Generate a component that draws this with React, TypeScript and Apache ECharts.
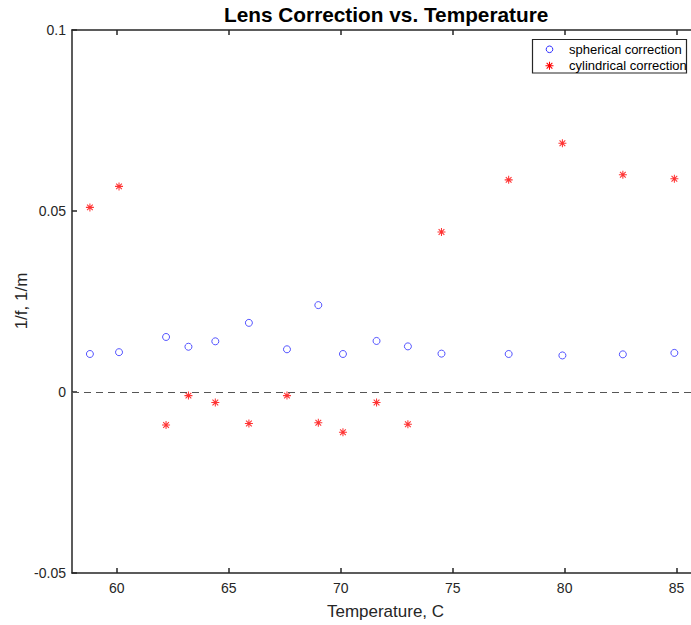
import React, { useEffect, useRef } from "react";
import * as echarts from "echarts";

const temperatures = [58.8, 60.1, 62.2, 63.2, 64.4, 65.9, 67.6, 69.0, 70.1, 71.6, 73.0, 74.5, 77.5, 79.9, 82.6, 84.9];
const spherical = [0.0105, 0.011, 0.0152, 0.0125, 0.014, 0.0191, 0.0118, 0.024, 0.0105, 0.0141, 0.0126, 0.0106, 0.0105, 0.0101, 0.0104, 0.0108];
const cylindrical = [0.051, 0.0568, -0.0091, -0.001, -0.0029, -0.0087, -0.001, -0.0085, -0.0111, -0.0029, -0.0089, 0.0442, 0.0586, 0.0687, 0.06, 0.0589];
const xTicks = [60, 65, 70, 75, 80, 85];
const seriesNames = ["spherical correction", "cylindrical correction"];
const yLabel = "1/f, 1/m";

const FONT = "'Liberation Sans', Arial, Helvetica, sans-serif";
const AXIS = "#262626";
const BLUE = "#2a2aff";
const RED = "#ff0000";
const STAR_D =
  "M4.35 0 H5.65 V10 H4.35 Z M0 4.35 H10 V5.65 H0 Z M0.95 1.9 L1.9 0.95 L9.05 8.1 L8.1 9.05 Z M8.1 0.95 L9.05 1.9 L1.9 9.05 L0.95 8.1 Z";
const STAR = "path://" + STAR_D;

let registered = false;
function ensureShape() {
  if (registered) return;
  echarts.graphic.registerShape("asterisk", echarts.graphic.extendPath(STAR_D, {}) as any);
  registered = true;
}

export default function App() {
  const ref = useRef<HTMLDivElement>(null);
  useEffect(() => {
    if (!ref.current) return;
    ensureShape();
    const chart = echarts.init(ref.current, null, { renderer: "svg" });
    const axisCommon = {
      type: "value" as const,
      min: 58,
      max: 86,
      axisLine: { show: true, onZero: false, lineStyle: { color: AXIS, width: 1.5 } },
      axisTick: { show: true, inside: true, length: 5, customValues: xTicks, lineStyle: { color: AXIS, width: 1.5 } },
      splitLine: { show: false },
    };
    const legX = 532.5;
    const legY = 39.5;
    const row1 = 49.3;
    const row2 = 65.7;
    const markX = 549.5;
    const textX = 569;
    chart.setOption({
      animation: false,
      backgroundColor: "#ffffff",
      title: {
        text: "Lens Correction vs. Temperature",
        left: 224,
        top: 4,
        padding: 0,
        textStyle: { fontFamily: FONT, fontSize: 20.8, fontWeight: "bold", color: "#000" },
      },
      grid: { left: 72, top: 30, width: 627, height: 543, containLabel: false },
      xAxis: [
        {
          ...axisCommon,
          position: "bottom",
          name: "Temperature, C",
          nameLocation: "middle",
          nameGap: 30,
          nameTextStyle: { fontFamily: FONT, fontSize: 17, color: AXIS },
          axisLabel: { customValues: xTicks, fontFamily: FONT, fontSize: 14, color: AXIS, margin: 8 },
        },
        {
          ...axisCommon,
          position: "top",
          axisLabel: { show: false },
        },
      ],
      yAxis: [
        {
          type: "value",
          min: -0.05,
          max: 0.1,
          interval: 0.05,
          position: "left",
          axisLine: { show: true, onZero: false, lineStyle: { color: AXIS, width: 1.5 } },
          axisTick: { show: true, inside: true, length: 5, lineStyle: { color: AXIS, width: 1.5 } },
          axisLabel: { fontFamily: FONT, fontSize: 14, color: AXIS, margin: 6 },
          splitLine: { show: false },
        },
        {
          type: "value",
          min: -0.05,
          max: 0.1,
          interval: 0.05,
          position: "right",
          axisLine: { show: true, onZero: false, lineStyle: { color: AXIS, width: 1.5 } },
          axisTick: { show: true, inside: true, length: 5, lineStyle: { color: AXIS, width: 1.5 } },
          axisLabel: { show: false },
          splitLine: { show: false },
        },
      ],
      graphic: [
        {
          type: "text",
          x: 21,
          y: 301,
          rotation: Math.PI / 2,
          style: { text: yLabel, fontFamily: FONT, fontSize: 17, fill: AXIS, align: "center", verticalAlign: "middle" },
        },
        {
          type: "group",
          z: 100,
          children: [
            {
              type: "rect",
              shape: { x: legX, y: legY, width: 154, height: 33.5 },
              style: { fill: "#fff", stroke: AXIS, lineWidth: 1.2 },
            },
            {
              type: "circle",
              shape: { cx: markX, cy: row1, r: 3.3 },
              style: { fill: "none", stroke: BLUE, lineWidth: 1 },
            },
            {
              type: "asterisk",
              x: markX - 4,
              y: row2 - 4,
              scaleX: 0.8,
              scaleY: 0.8,
              style: { fill: RED },
            },
            {
              type: "text",
              x: textX,
              y: row1,
              style: { text: seriesNames[0], fontFamily: FONT, fontSize: 13, fill: "#000", verticalAlign: "middle", align: "left" },
            },
            {
              type: "text",
              x: textX,
              y: row2,
              style: { text: seriesNames[1], fontFamily: FONT, fontSize: 13, fill: "#000", verticalAlign: "middle", align: "left" },
            },
          ],
        },
      ],
      series: [
        {
          name: seriesNames[0],
          type: "scatter",
          symbol: "circle",
          symbolSize: 7,
          itemStyle: { color: "rgba(255,255,255,0)", borderColor: BLUE, borderWidth: 1 },
          data: temperatures.map((t, i) => [t, spherical[i]]),
          z: 3,
          markLine: {
            silent: true,
            symbol: ["none", "none"],
            label: { show: false },
            lineStyle: { color: "#555555", type: [7, 5], width: 1 },
            data: [{ yAxis: 0 }],
          },
        },
        {
          name: seriesNames[1],
          type: "scatter",
          symbol: STAR,
          symbolSize: 8,
          itemStyle: { color: RED },
          data: temperatures.map((t, i) => [t, cylindrical[i]]),
          z: 3,
        },
      ],
    });
    return () => chart.dispose();
  }, []);
  return (
    <div style={{ position: "fixed", left: 0, top: 0, width: 691, height: 625, overflow: "hidden", background: "#fff" }}>
      <div ref={ref} style={{ width: 710, height: 625 }} />
    </div>
  );
}
